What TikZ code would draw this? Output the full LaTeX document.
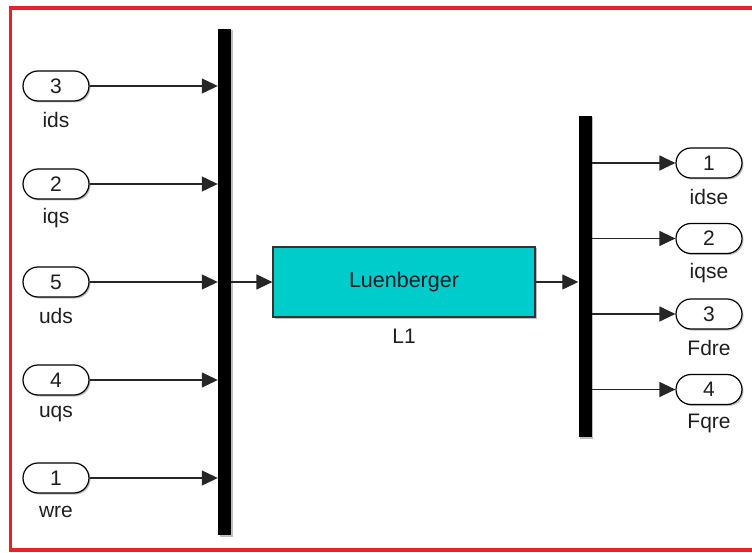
\documentclass[tikz,border=0pt]{standalone}
\usepackage{fontspec}
\setmainfont{Liberation Sans}
\usetikzlibrary{shapes.misc,arrows.meta,shadows}
\definecolor{frame}{RGB}{232,32,42}
\definecolor{blockcyan}{RGB}{0,204,204}
\definecolor{txt}{RGB}{30,30,30}
\begin{document}
\begin{tikzpicture}[x=1pt,y=-1pt,
  shade/.style={drop shadow={shadow xshift=1.5pt,shadow yshift=-1.5pt,fill=black,opacity=0.25}},
  port/.style={rounded rectangle, draw=black, line width=1.2pt, fill=white, minimum width=66pt,
    minimum height=30pt, inner sep=0pt, text=txt, font=\fontsize{21}{21}\selectfont, shade},
  lbl/.style={text=txt, inner sep=0pt, font=\fontsize{21}{21}\selectfont},
  bar/.style={fill=black, draw=none, minimum width=13pt, inner sep=0pt, shade},
  blk/.style={draw=black!80, line width=1.2pt, fill=blockcyan, minimum width=262pt, minimum height=70pt,
    inner sep=0pt, text=txt, font=\fontsize{21.5}{21.5}\selectfont, shade},
  wire/.style={line width=1.2pt, draw=black!85, -{Triangle[length=16pt,width=15pt]}}]
\useasboundingbox (0,0) rectangle (752,553);
\draw[frame, line width=3.5pt] (10.5,8) rectangle (760,550);

% left bus
\node[bar, minimum height=506pt] (barL) at (224.5,282) {};
% inputs
\node[port] (i1) at (56,86) {3};
\node[lbl] (li1) at (56,120) {ids};
\node[port] (i2) at (56,184) {2};
\node[lbl] (li2) at (56,218) {iqs};
\node[port] (i3) at (56,282) {5};
\node[lbl] (li3) at (56,316) {uds};
\node[port] (i4) at (56,380) {4};
\node[lbl] (li4) at (56,414) {uqs};
\node[port] (i5) at (56,478) {1};
\node[lbl] (li5) at (56,512) {wre};

% block
\node[blk] (L) at (404,282) {Luenberger};
\node[lbl] (lL) at (404,336) {L1};

% right bus
\node[bar, minimum height=321pt] (barR) at (585,276.5) {};
% outputs
\node[port] (o1) at (709,163) {1};
\node[lbl] (lo1) at (709,197) {idse};
\node[port] (o2) at (709,238.5) {2};
\node[lbl] (lo2) at (709,273) {iqse};
\node[port] (o3) at (709,314) {3};
\node[lbl] (lo3) at (709,348) {Fdre};
\node[port] (o4) at (709,389.5) {4};
\node[lbl] (lo4) at (709,423) {Fqre};

% wires
\foreach \p in {i1,i2,i3,i4,i5}
  \draw[wire] (\p.east) -- (\p.east -| barL.west);
\draw[wire] (barL.east |- L.west) -- (L.west);
\draw[wire] (L.east) -- (L.east -| barR.west);
\foreach \p in {o1,o2,o3,o4}
  \draw[wire] (barR.east |- \p.west) -- (\p.west);
\end{tikzpicture}
\end{document}
